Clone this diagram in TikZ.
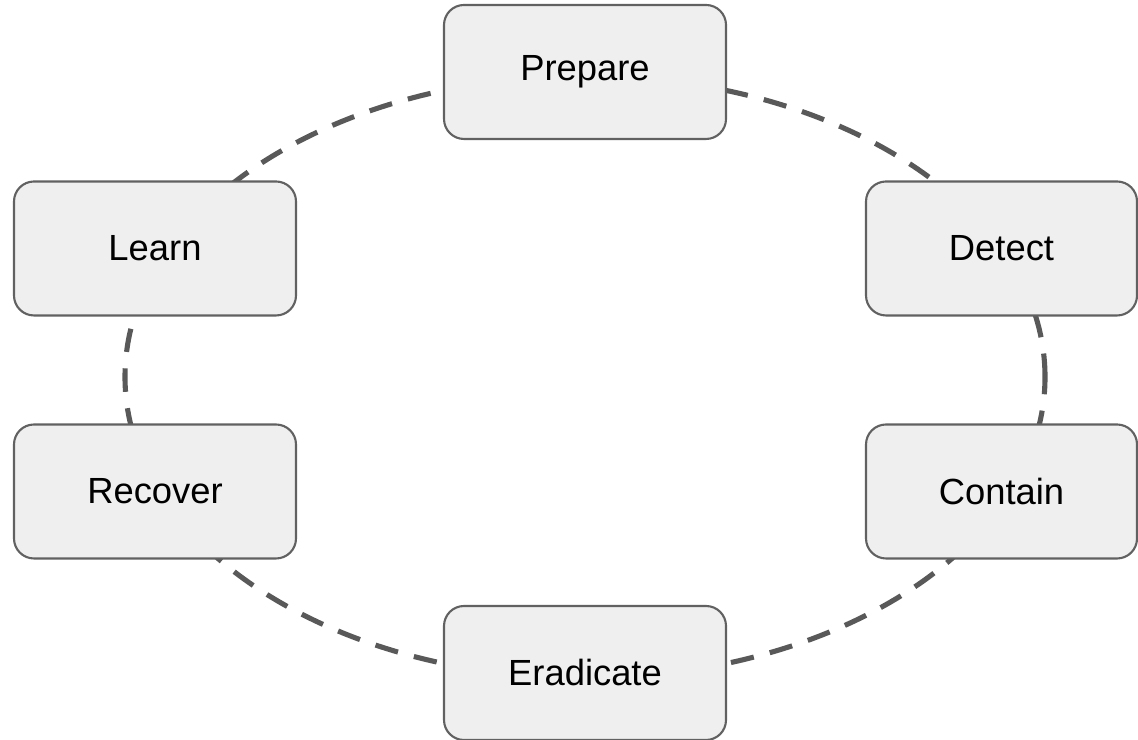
\documentclass[tikz,border=0pt]{standalone}
\usepackage{fontspec}
\setmainfont{Liberation Sans}
\usepackage{xcolor}
\usepackage{tikz}
\definecolor{boxfill}{HTML}{EFEFEF}
\definecolor{boxline}{HTML}{616161}
\definecolor{ringline}{HTML}{595959}

\begin{document}
\begin{tikzpicture}[
  phase/.style={draw=boxline,line width=0.6pt,fill=boxfill,rounded corners=0.2cm,
    minimum width=2.82cm,minimum height=1.34cm,font=\fontsize{10.35}{12}\selectfont},
  ring/.style={draw=ringline,line width=1.45pt,dash pattern=on 0.235cm off 0.165cm}]
\useasboundingbox (0,0) rectangle (11.38,7.40);
\coordinate (c) at (5.85,3.63);
\draw[ring] (c) ellipse [x radius=4.60cm,y radius=3.01cm];
\node[phase] (prep) at (5.85,6.68) {Prepare};
\node[phase,minimum width=2.71cm] (det) at (10.015,4.915) {Detect};
\node[phase,minimum width=2.71cm] (cont) at (10.015,2.485) {Contain};
\node[phase] (erad) at (5.85,0.67) {Eradicate};
\node[phase] (rec) at (1.55,2.485) {Recover};
\node[phase] (learn) at (1.55,4.915) {Learn};
\end{tikzpicture}
\end{document}
